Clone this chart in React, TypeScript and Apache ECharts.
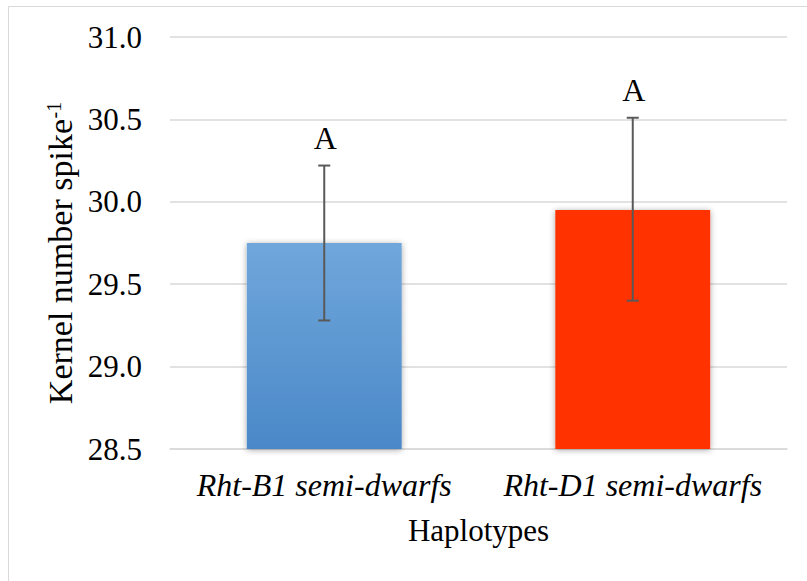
import React, { useEffect, useRef } from "react";
import * as echarts from "echarts";

const categories = ["Rht-B1 semi-dwarfs", "Rht-D1 semi-dwarfs"];
const means = [29.75, 29.95];
const errLow = [29.28, 29.4];
const errHigh = [30.22, 30.51];
const letters = ["A", "A"];
const yMin = 28.5;
const yMax = 31.0;
const yStep = 0.5;
const yTitle = "Kernel number spike";
const yTitleSup = "-1";
const xTitle = "Haplotypes";

const FONT = "Liberation Serif";

export default function App() {
  const ref = useRef<HTMLDivElement>(null);
  useEffect(() => {
    if (!ref.current) return;
    const chart = echarts.init(ref.current, null, { renderer: "svg" });
    const barColors = [
      new echarts.graphic.LinearGradient(0, 0, 0, 1, [
        { offset: 0, color: "#70a7db" },
        { offset: 1, color: "#4a88c8" },
      ]),
      "#ff3300",
    ];
    chart.setOption({
      animation: false,
      backgroundColor: "#ffffff",
      textStyle: { fontFamily: FONT },
      grid: { left: 170, right: 20, top: 37, bottom: 132 },
      graphic: [
        {
          type: "line",
          shape: { x1: 8.5, y1: 6.5, x2: 8.5, y2: 581 },
          style: { stroke: "#d9d9d9", lineWidth: 1 },
        },
        {
          type: "line",
          shape: { x1: 8.5, y1: 6.5, x2: 807, y2: 6.5 },
          style: { stroke: "#d9d9d9", lineWidth: 1 },
        },
        {
          type: "group",
          x: 60.5,
          y: 253,
          rotation: Math.PI / 2,
          children: [
            {
              type: "text",
              x: 134,
              y: 0,
              style: {
                text: yTitle,
                fontFamily: FONT,
                fontSize: 34,
                fill: "#000",
                align: "right",
                verticalAlign: "middle",
              },
            },
            {
              type: "text",
              x: 134.5,
              y: -6.5,
              style: {
                text: yTitleSup,
                fontFamily: FONT,
                fontSize: 20,
                fill: "#000",
                align: "left",
                verticalAlign: "middle",
              },
            },
          ],
        },
      ],
      xAxis: {
        type: "category",
        data: categories,
        axisTick: { show: false },
        axisLine: { show: true, lineStyle: { color: "#d9d9d9", width: 1.5 } },
        axisLabel: {
          interval: 0,
          fontFamily: FONT,
          fontSize: 32,
          fontStyle: "italic",
          color: "#000",
          margin: 20,
        },
        name: xTitle,
        nameLocation: "middle",
        nameGap: 66,
        nameTextStyle: { fontFamily: FONT, fontSize: 31, color: "#000" },
      },
      yAxis: {
        type: "value",
        min: yMin,
        max: yMax,
        interval: yStep,
        axisLine: { show: false },
        axisTick: { show: false },
        splitLine: { lineStyle: { color: "#d9d9d9", width: 1.5 } },
        axisLabel: {
          fontFamily: FONT,
          fontSize: 31,
          color: "#000",
          margin: 28,
          formatter: (v: number) => v.toFixed(1),
        },
      },
      series: [
        {
          type: "bar",
          barWidth: "50.2%",
          data: means.map((v, i) => ({
            value: v,
            itemStyle: {
              color: barColors[i],
              shadowBlur: 6,
              shadowColor: "rgba(0,0,0,0.35)",
              shadowOffsetX: 0,
              shadowOffsetY: 1,
            },
          })),
        },
        {
          type: "custom",
          data: categories.map((c, i) => [i, errLow[i], errHigh[i]]),
          z: 10,
          renderItem: (params: any, api: any) => {
            const i = api.value(0);
            const lo = api.coord([i, api.value(1)]);
            const hi = api.coord([i, api.value(2)]);
            const cap = 6;
            const st = { stroke: "#595959", lineWidth: 2 };
            return {
              type: "group",
              children: [
                { type: "line", shape: { x1: hi[0], y1: hi[1], x2: lo[0], y2: lo[1] }, style: st },
                { type: "line", shape: { x1: hi[0] - cap, y1: hi[1], x2: hi[0] + cap, y2: hi[1] }, style: st },
                { type: "line", shape: { x1: lo[0] - cap, y1: lo[1], x2: lo[0] + cap, y2: lo[1] }, style: st },
                {
                  type: "text",
                  style: {
                    x: hi[0] + 1,
                    y: hi[1] - 12,
                    text: letters[i],
                    fontFamily: FONT,
                    fontSize: 32,
                    fill: "#000",
                    align: "center",
                    verticalAlign: "bottom",
                  },
                },
              ],
            };
          },
        },
      ],
    });
    return () => chart.dispose();
  }, []);
  return <div ref={ref} style={{ width: 807, height: 581, position: "absolute", left: 0, top: 0 }} />;
}
